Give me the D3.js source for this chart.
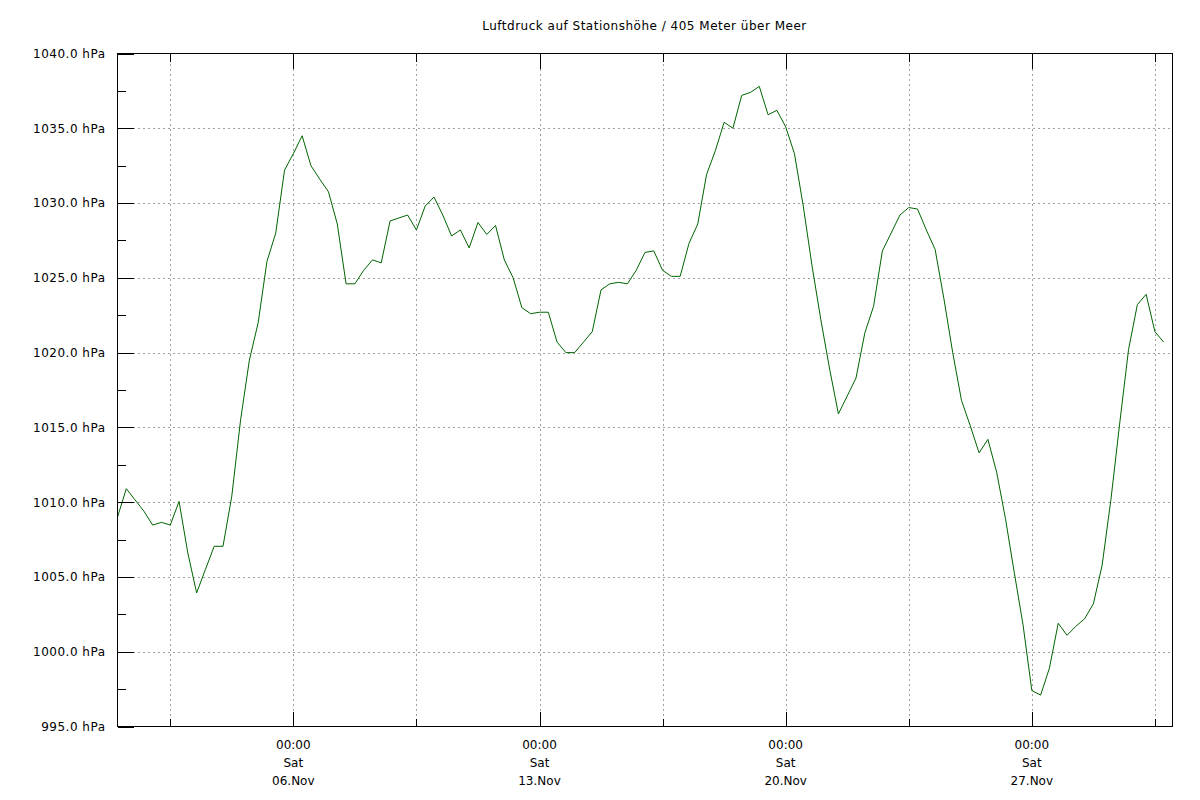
<!DOCTYPE html>
<html>
<head>
<meta charset="utf-8">
<script src="https://cdn.jsdelivr.net/npm/d3@7"></script>
<style>
  html, body { margin: 0; padding: 0; background: #fff; }
  svg { display: block; font-family: "DejaVu Sans", sans-serif; }
</style>
</head>
<body>
<svg id="chart" width="1200" height="800"></svg>
<script>
// ---- data ----
const chartTitle = "Luftdruck auf Stationshöhe / 405 Meter über Meer";
const startTime = "2021-11-01T00:00:00Z";   // first reading, readings every 6 hours
const endTime = "2021-12-01T00:00:00Z";
const stepHours = 6;
const pressure = [
  1009.0, 1010.9, 1010.15, 1009.4, 1008.47, 1008.65, 1008.47, 1010.05, 1006.6, 1003.93,
  1005.5, 1007.05, 1007.05, 1010.4, 1015.5, 1019.5, 1022.0, 1026.1, 1028.0, 1032.2,
  1033.3, 1034.5, 1032.5, 1031.6, 1030.75, 1028.6, 1024.6, 1024.6, 1025.5, 1026.2,
  1026.0, 1028.8, 1029.0, 1029.2, 1028.2, 1029.8, 1030.4, 1029.2, 1027.8, 1028.2,
  1027.0, 1028.7, 1027.9, 1028.5, 1026.2, 1025.0, 1023.0, 1022.6, 1022.7, 1022.7,
  1020.7, 1020.0, 1020.0, 1020.7, 1021.4, 1024.2, 1024.6, 1024.7, 1024.6, 1025.5,
  1026.7, 1026.8, 1025.5, 1025.1, 1025.1, 1027.3, 1028.6, 1031.9, 1033.5, 1035.4,
  1035.0, 1037.2, 1037.4, 1037.8, 1035.9, 1036.2, 1035.1, 1033.3, 1029.8, 1025.8,
  1022.2, 1018.9, 1015.9, 1017.1, 1018.3, 1021.3, 1023.1, 1026.8, 1028.0, 1029.2,
  1029.7, 1029.6, 1028.2, 1026.9, 1023.6, 1020.0, 1016.8, 1015.1, 1013.3, 1014.2,
  1012.0, 1008.9, 1005.3, 1001.8, 997.4, 997.1, 998.9, 1001.9, 1001.1, 1001.7,
  1002.2, 1003.2, 1005.8, 1010.2, 1015.3, 1020.2, 1023.2, 1023.9, 1021.4, 1020.7
];
const yMajorTicks = [995, 1000, 1005, 1010, 1015, 1020, 1025, 1030, 1035, 1040];
const yMinorTicks = [997.5, 1002.5, 1007.5, 1012.5, 1017.5, 1022.5, 1027.5, 1032.5, 1037.5];
const xMajorTicks = ["2021-11-06T00:00:00Z", "2021-11-13T00:00:00Z", "2021-11-20T00:00:00Z", "2021-11-27T00:00:00Z"];
const xMinorTicks = ["2021-11-02T12:00:00Z", "2021-11-09T12:00:00Z", "2021-11-16T12:00:00Z", "2021-11-23T12:00:00Z", "2021-11-30T12:00:00Z"];

// ---- layout ----
const L = 117.5, R = 1172.5, T = 53.5, B = 726.5;
const svg = d3.select("#chart");

const t0 = new Date(startTime);
const series = pressure.map((v, i) => ({ t: d3.utcHour.offset(t0, i * stepHours), v }));

const x = d3.scaleUtc().domain([new Date(startTime), new Date(endTime)]).range([L, R]);
const y = d3.scaleLinear().domain([995, 1040]).range([B, T]);

const majorX = xMajorTicks.map(s => new Date(s));
const minorX = xMinorTicks.map(s => new Date(s));
const gridX = majorX.concat(minorX);

// grid
const grid = svg.append("g").attr("stroke", "#a0a0a0").attr("stroke-dasharray", "2,3")
  .attr("shape-rendering", "crispEdges");
grid.selectAll(".gy").data(yMajorTicks.filter(v => v > 995 && v < 1040)).join("line")
  .attr("x1", L).attr("x2", R)
  .attr("y1", d => Math.round(y(d)) + 0.5).attr("y2", d => Math.round(y(d)) + 0.5);
grid.selectAll(".gx").data(gridX).join("line")
  .attr("x1", d => Math.round(x(d)) + 0.5).attr("x2", d => Math.round(x(d)) + 0.5)
  .attr("y1", T).attr("y2", B);

// line
const line = d3.line().x(d => x(d.t)).y(d => y(d.v));
svg.append("path").datum(series)
  .attr("fill", "none").attr("stroke", "#006400").attr("stroke-width", 1)
  .attr("d", line);

// frame
svg.append("rect").attr("x", L).attr("y", T).attr("width", R - L).attr("height", B - T)
  .attr("fill", "none").attr("stroke", "#000").attr("shape-rendering", "crispEdges");

// y axis
const yMaj = svg.append("g").attr("transform", `translate(${L},0)`)
  .call(d3.axisLeft(y).tickValues(yMajorTicks).tickSizeInner(-16).tickSizeOuter(0).tickPadding(12)
    .tickFormat(d => d.toFixed(1) + " hPa"));
yMaj.select(".domain").remove();
yMaj.selectAll("line").attr("shape-rendering", "crispEdges");
yMaj.selectAll("text").attr("font-family", "DejaVu Sans, sans-serif").attr("font-size", 12)
  .attr("letter-spacing", 0.5).attr("fill", "#000");

const yMin = svg.append("g").attr("transform", `translate(${L},0)`)
  .call(d3.axisLeft(y).tickValues(yMinorTicks).tickSizeInner(-8).tickSizeOuter(0).tickFormat(""));
yMin.select(".domain").remove();
yMin.selectAll("line").attr("shape-rendering", "crispEdges");

// x axis (bottom + mirrored top)
function xTicks(g, orient, vals, size) {
  const ax = (orient === "bottom" ? d3.axisBottom(x) : d3.axisTop(x))
    .tickValues(vals).tickSizeInner(-size).tickSizeOuter(0).tickFormat("");
  g.call(ax);
  g.select(".domain").remove();
  g.selectAll("line").attr("shape-rendering", "crispEdges");
}
svg.append("g").attr("transform", `translate(0,${B})`).call(g => xTicks(g, "bottom", majorX, 15));
svg.append("g").attr("transform", `translate(0,${B})`).call(g => xTicks(g, "bottom", minorX, 8));
svg.append("g").attr("transform", `translate(0,${T})`).call(g => xTicks(g, "top", majorX, 15));
svg.append("g").attr("transform", `translate(0,${T})`).call(g => xTicks(g, "top", minorX, 8));

// x labels
const fTime = d3.utcFormat("%H:%M"), fDay = d3.utcFormat("%a"), fDate = d3.utcFormat("%d.%b");
const xl = svg.append("g").attr("font-size", 12).attr("text-anchor", "middle").attr("fill", "#000");
majorX.forEach(d => {
  const g = xl.append("text").attr("x", x(d));
  g.append("tspan").attr("x", x(d)).attr("y", 749).text(fTime(d));
  g.append("tspan").attr("x", x(d)).attr("y", 767).text(fDay(d));
  g.append("tspan").attr("x", x(d)).attr("y", 785).text(fDate(d));
});

// title
svg.append("text").attr("x", 644.5).attr("y", 30).attr("text-anchor", "middle")
  .attr("font-size", 12).attr("letter-spacing", 0.5).attr("fill", "#000").text(chartTitle);
</script>
</body>
</html>
